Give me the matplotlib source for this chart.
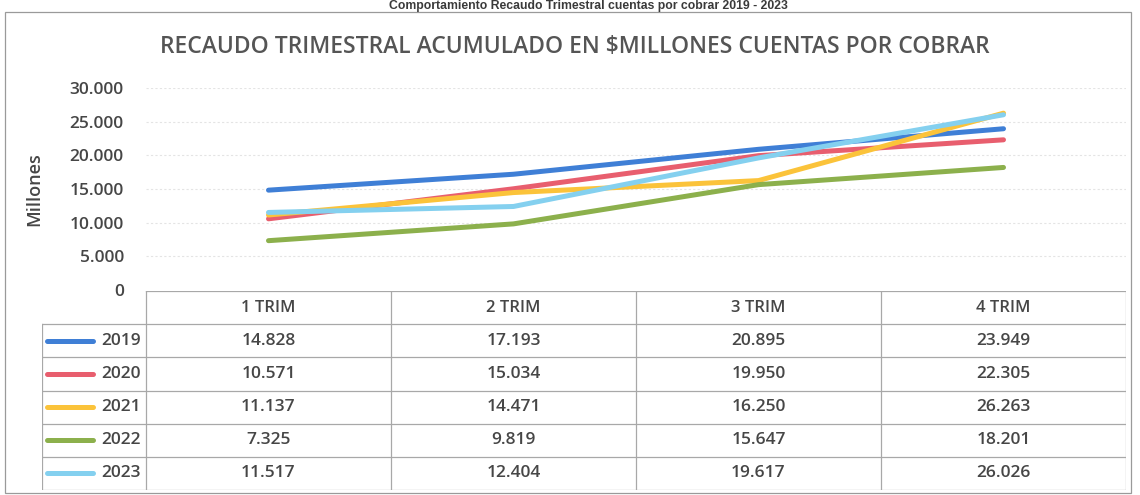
import matplotlib
matplotlib.use("Agg")
import matplotlib.pyplot as plt
from matplotlib.lines import Line2D
from matplotlib.patches import Rectangle

# ---- data ----
categories = ["1 TRIM", "2 TRIM", "3 TRIM", "4 TRIM"]
years = ["2019", "2020", "2021", "2022", "2023"]
v2019 = [14828, 17193, 20895, 23949]
v2020 = [10571, 15034, 19950, 22305]
v2021 = [11137, 14471, 16250, 26263]
v2022 = [7325, 9819, 15647, 18201]
v2023 = [11517, 12404, 19617, 26026]
series = [v2019, v2020, v2021, v2022, v2023]
colors = ["#3f7fd6", "#e85e6e", "#fbc33a", "#8cb04c", "#84d0ef"]
yticks = [0, 5000, 10000, 15000, 20000, 25000, 30000]

title = "RECAUDO TRIMESTRAL ACUMULADO EN $MILLONES CUENTAS POR COBRAR"
caption = "Comportamiento Recaudo Trimestral cuentas por cobrar 2019 - 2023"

def fmt(v):
    return f"{int(round(v)):,}".replace(",", ".")

W, H = 1140, 495
fig = plt.figure(figsize=(W / 100, H / 100), dpi=100)
fig.patch.set_facecolor("white")

TXT = "#464646"
plt.rcParams["font.family"] = ["Open Sans", "DejaVu Sans"]

def fx(px):
    return px / W

def fy(py):
    return 1 - py / H

# outer frame
fig.add_artist(Rectangle((fx(5), fy(493)), fx(1131) - fx(5), fy(12) - fy(493),
                         transform=fig.transFigure, fill=False,
                         edgecolor="#9a9a9a", linewidth=0.9))

# caption at very top (kept fully visible)
fig.text(fx(588), fy(0.5), caption, ha="center", va="top", fontsize=8.8,
         fontweight="bold", color="#3a3a3a", family=["Liberation Sans", "DejaVu Sans"])

# title
fig.text(fx(575), fy(47), title, ha="center", va="center", fontsize=16.5,
         color="#555555", fontweight="semibold")

# ---- main plot ----
x_left, x_right = 146, 1126
y_top, y_bot = 88, 290
ax = fig.add_axes([fx(x_left), fy(y_bot), fx(x_right) - fx(x_left), fy(y_top) - fy(y_bot)])
ax.set_xlim(-0.5, len(categories) - 0.5)
ax.set_ylim(0, 30000)
xs = list(range(len(categories)))
for vals, c in zip(series, colors):
    ax.plot(xs, vals, color=c, linewidth=3.6, solid_capstyle="round", zorder=3)
ax.set_yticks(yticks)
ax.set_yticklabels([fmt(t) for t in yticks], fontsize=12.5, color=TXT, fontweight="semibold")
ax.tick_params(axis="y", length=0, pad=16)
ax.set_xticks([])
for s in ax.spines.values():
    s.set_visible(False)
for t in yticks[1:]:
    ax.axhline(t, color="#e4e4e4", linewidth=0.8, linestyle=(0, (2, 2)), zorder=1)
ax.set_ylabel("Millones", fontsize=13, color=TXT, fontweight="semibold", labelpad=8)
ax.yaxis.set_label_coords(-0.105, 0.5)

# ---- data table ----
t_left, t_right = 42, 1126
t_top, t_bot = 291, 490
tax = fig.add_axes([fx(t_left), fy(t_bot), fx(t_right) - fx(t_left), fy(t_top) - fy(t_bot)])
leg_w = (146 - 42) / 245.0
tax.set_xlim(-0.5 - leg_w, len(categories) - 0.5)
nrows = len(years) + 1
tax.set_ylim(nrows, 0)
tax.axis("off")
lc = "#a8a8a8"
lw = 0.9
x0 = -0.5 - leg_w
tax.add_line(Line2D([-0.5, len(categories) - 0.5], [0, 0], color=lc, lw=lw))
for r in range(1, nrows + 1):
    tax.add_line(Line2D([x0, len(categories) - 0.5], [r, r], color=lc, lw=lw))
tax.add_line(Line2D([x0, x0], [1, nrows], color=lc, lw=lw))
for i in range(len(categories) + 1):
    tax.add_line(Line2D([i - 0.5, i - 0.5], [0, nrows], color=lc, lw=lw))
for i, cat in enumerate(categories):
    tax.text(i, 0.5, cat, ha="center", va="center", fontsize=12, color=TXT,
             fontweight="semibold")
for r, (yr, vals, c) in enumerate(zip(years, series, colors), start=1):
    tax.add_line(Line2D([x0 + 0.02, x0 + 0.21], [r + 0.5, r + 0.5], color=c, lw=3.6,
                        solid_capstyle="round"))
    tax.text(-0.52, r + 0.5, yr, ha="right", va="center", fontsize=12.5, color=TXT,
             fontweight="semibold")
    for i, v in enumerate(vals):
        tax.text(i, r + 0.5, fmt(v), ha="center", va="center", fontsize=12.5,
                 color=TXT, fontweight="semibold")

fig.savefig("out.png", dpi=100, facecolor="white")
